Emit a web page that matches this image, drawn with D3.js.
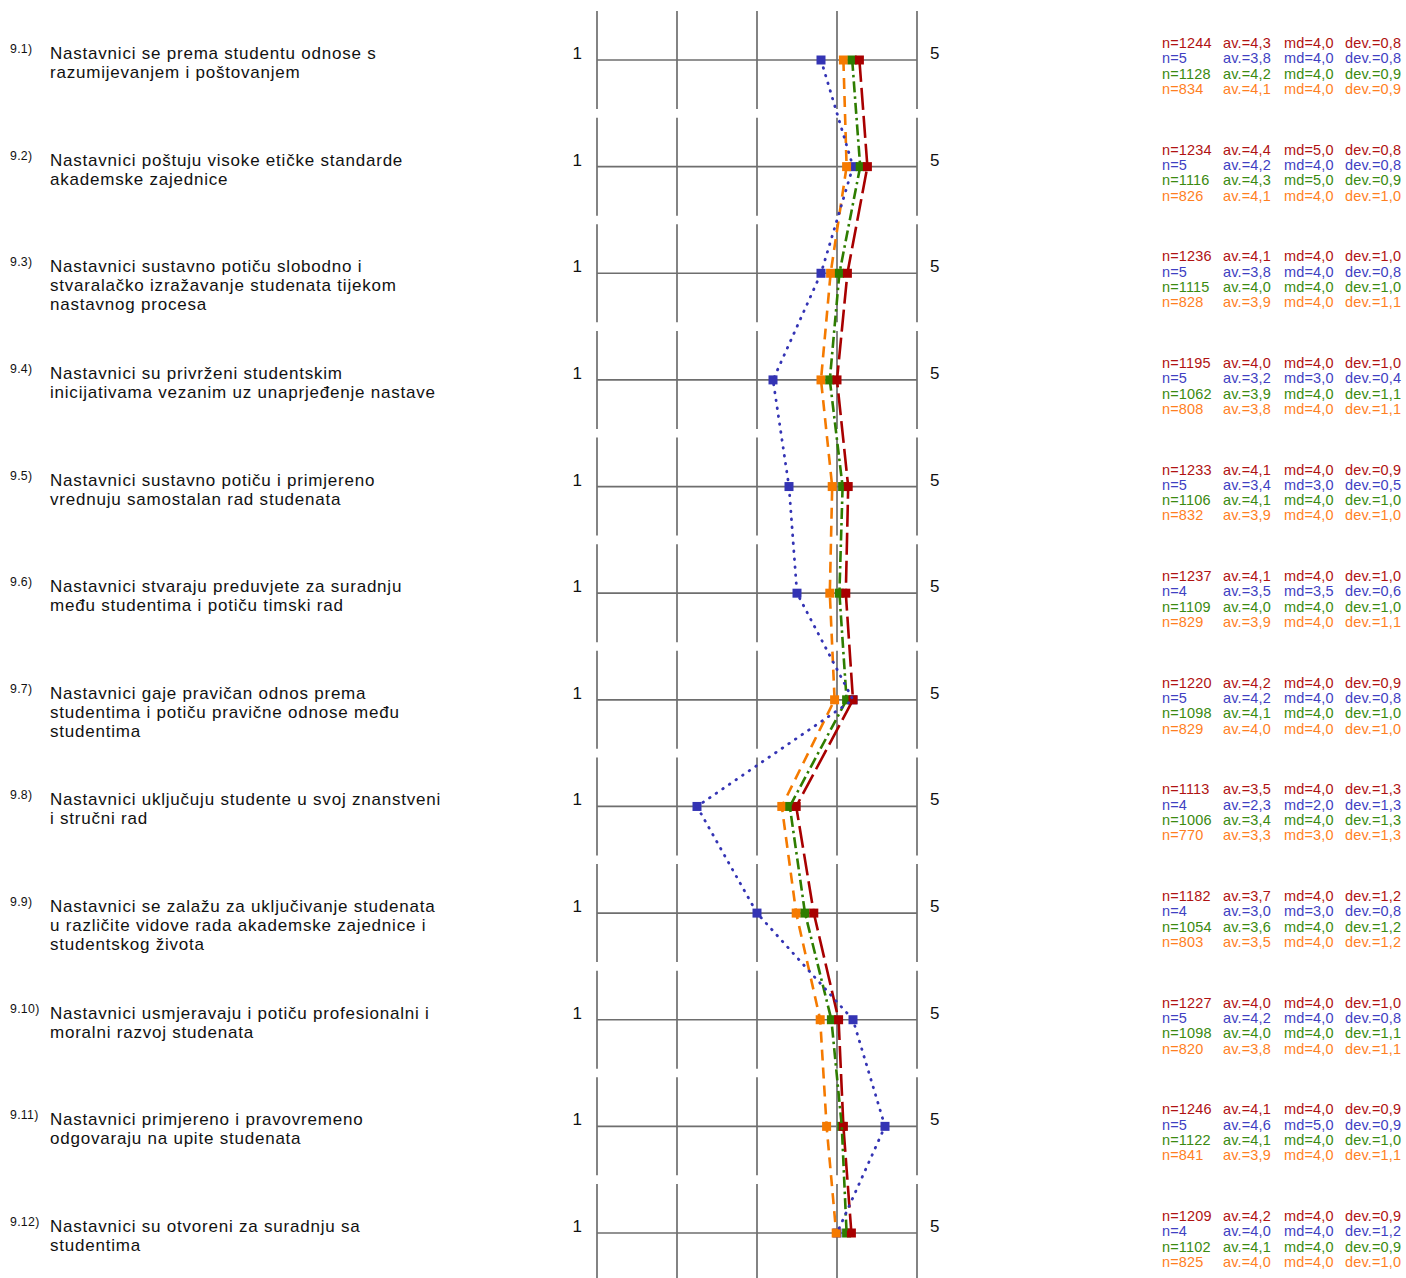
<!DOCTYPE html>
<html><head><meta charset="utf-8">
<script src="https://cdn.jsdelivr.net/npm/d3@7"></script>
<style>
html,body{margin:0;padding:0;background:#fff;}
svg{display:block;font-family:"Liberation Sans",Arial,sans-serif;}
</style></head>
<body>
<svg id="chart" width="1406" height="1278"></svg>
<script>
// ---- data ----
const itemIds = ["9.1)","9.2)","9.3)","9.4)","9.5)","9.6)","9.7)","9.8)","9.9)","9.10)","9.11)","9.12)"];
const itemLabels = [
  ["Nastavnici se prema studentu odnose s","razumijevanjem i poštovanjem"],
  ["Nastavnici poštuju visoke etičke standarde","akademske zajednice"],
  ["Nastavnici sustavno potiču slobodno i","stvaralačko izražavanje studenata tijekom","nastavnog procesa"],
  ["Nastavnici su privrženi studentskim","inicijativama vezanim uz unaprjeđenje nastave"],
  ["Nastavnici sustavno potiču i primjereno","vrednuju samostalan rad studenata"],
  ["Nastavnici stvaraju preduvjete za suradnju","među studentima i potiču timski rad"],
  ["Nastavnici gaje pravičan odnos prema","studentima i potiču pravične odnose među","studentima"],
  ["Nastavnici uključuju studente u svoj znanstveni","i stručni rad"],
  ["Nastavnici se zalažu za uključivanje studenata","u različite vidove rada akademske zajednice i","studentskog života"],
  ["Nastavnici usmjeravaju i potiču profesionalni i","moralni razvoj studenata"],
  ["Nastavnici primjereno i pravovremeno","odgovaraju na upite studenata"],
  ["Nastavnici su otvoreni za suradnju sa","studentima"]
];
const scaleTicks = [1, 2, 3, 4, 5];
const scaleEndLabels = ["1", "5"];

// marker positions (means) per series
const redMean    = [4.28, 4.38, 4.13, 4.00, 4.14, 4.11, 4.20, 3.49, 3.71, 4.02, 4.08, 4.18];
const blueMean   = [3.80, 4.20, 3.80, 3.20, 3.40, 3.50, 4.20, 2.25, 3.00, 4.20, 4.60, 4.00];
const greenMean  = [4.19, 4.29, 4.03, 3.91, 4.07, 4.03, 4.12, 3.41, 3.60, 3.93, 4.06, 4.12];
const orangeMean = [4.08, 4.12, 3.92, 3.80, 3.94, 3.91, 3.97, 3.31, 3.49, 3.79, 3.87, 3.99];

// statistics text
const redN   = [1244,1234,1236,1195,1233,1237,1220,1113,1182,1227,1246,1209];
const redAv  = [4.3,4.4,4.1,4.0,4.1,4.1,4.2,3.5,3.7,4.0,4.1,4.2];
const redMd  = [4,5,4,4,4,4,4,4,4,4,4,4];
const redDev = [0.8,0.8,1.0,1.0,0.9,1.0,0.9,1.3,1.2,1.0,0.9,0.9];

const blueN   = [5,5,5,5,5,4,5,4,4,5,5,4];
const blueAv  = [3.8,4.2,3.8,3.2,3.4,3.5,4.2,2.3,3.0,4.2,4.6,4.0];
const blueMd  = [4,4,4,3,3,3.5,4,2,3,4,5,4];
const blueDev = [0.8,0.8,0.8,0.4,0.5,0.6,0.8,1.3,0.8,0.8,0.9,1.2];

const greenN   = [1128,1116,1115,1062,1106,1109,1098,1006,1054,1098,1122,1102];
const greenAv  = [4.2,4.3,4.0,3.9,4.1,4.0,4.1,3.4,3.6,4.0,4.1,4.1];
const greenMd  = [4,5,4,4,4,4,4,4,4,4,4,4];
const greenDev = [0.9,0.9,1.0,1.1,1.0,1.0,1.0,1.3,1.2,1.1,1.0,0.9];

const orangeN   = [834,826,828,808,832,829,829,770,803,820,841,825];
const orangeAv  = [4.1,4.1,3.9,3.8,3.9,3.9,4.0,3.3,3.5,3.8,3.9,4.0];
const orangeMd  = [4,4,4,4,4,4,4,3,4,4,4,4];
const orangeDev = [0.9,1.0,1.1,1.1,1.0,1.1,1.0,1.3,1.2,1.1,1.1,1.0];

// ---- styling ----
const series = [
  {key:"red",    mean:redMean,    n:redN,    av:redAv,    md:redMd,    dev:redDev,    line:"#a80000", text:"#b01212", dash:"22,6",       width:2.6, cap:"butt"},
  {key:"blue",   mean:blueMean,   n:blueN,   av:blueAv,   md:blueMd,   dev:blueDev,   line:"#3434b4", text:"#3f3fc2", dash:"0.6,7.4",    width:2.8, cap:"round"},
  {key:"green",  mean:greenMean,  n:greenN,  av:greenAv,  md:greenMd,  dev:greenDev,  line:"#2e7d00", text:"#3a8a10", dash:"11,4,2.5,4", width:2.6, cap:"butt"},
  {key:"orange", mean:orangeMean, n:orangeN, av:orangeAv, md:orangeMd, dev:orangeDev, line:"#f57a00", text:"#ff7f1f", dash:"11,7",       width:2.6, cap:"butt"}
];

const svg = d3.select("#chart");
const x = d3.scaleLinear().domain([1,5]).range([597,917]);
const y = d3.scaleLinear().domain([0, itemIds.length-1]).range([60,1233]);
const rows = d3.range(itemIds.length);
const fmt1 = v => d3.format(".1f")(v).replace(".", ",");

// grid
const grid = svg.append("g").attr("stroke","#6e6e6e").attr("stroke-width",1.7);
rows.forEach(i => {
  scaleTicks.forEach(t => {
    grid.append("line").attr("x1",x(t)).attr("x2",x(t))
      .attr("y1",y(i)-49).attr("y2",y(i)+49);
  });
  grid.append("line").attr("x1",x(1)).attr("x2",x(5)).attr("y1",y(i)).attr("y2",y(i));
});

// labels
const lab = svg.append("g");
rows.forEach(i => {
  lab.append("text").attr("x",10).attr("y",y(i)-7).attr("font-size",12.3).attr("letter-spacing",0.3).attr("fill","#111").text(itemIds[i]);
  const t = lab.append("text").attr("x",50).attr("y",y(i)-1).attr("font-size",17).attr("letter-spacing",0.78).attr("fill","#111");
  itemLabels[i].forEach((ln,k) => t.append("tspan").attr("x",50).attr("dy", k===0?0:19).text(ln));
  lab.append("text").attr("x",582).attr("y",y(i)-1).attr("text-anchor","end").attr("font-size",17).attr("fill","#111").text(scaleEndLabels[0]);
  lab.append("text").attr("x",930).attr("y",y(i)-1).attr("font-size",17).attr("fill","#111").text(scaleEndLabels[1]);
});

// markers: blue, orange, green, red
const markerOrder = ["blue","orange","green","red"];
const ms = 9;
markerOrder.forEach(k => {
  const s = series.find(d => d.key===k);
  svg.append("g").selectAll("rect").data(rows).join("rect")
    .attr("x", i => x(s.mean[i]) - ms/2).attr("y", i => y(i) - ms/2)
    .attr("width", ms).attr("height", ms).attr("fill", s.line);
});

// lines: red, green, orange, blue
const lineOrder = ["red","green","orange","blue"];
lineOrder.forEach(k => {
  const s = series.find(d => d.key===k);
  const gen = d3.line().x(i => x(s.mean[i])).y(i => y(i));
  svg.append("path").attr("d", gen(rows)).attr("fill","none")
    .attr("stroke", s.line).attr("stroke-width", s.width)
    .attr("stroke-dasharray", s.dash).attr("stroke-linecap", s.cap);
});

// stats
const st = svg.append("g").attr("font-size",14.5).attr("letter-spacing",0.15);
const cols = [1162, 1223, 1284, 1345];
rows.forEach(i => {
  series.forEach((s,j) => {
    const yy = y(i) - 12 + j*15.3;
    const vals = ["n=" + s.n[i], "av.=" + fmt1(s.av[i]), "md=" + fmt1(s.md[i]), "dev.=" + fmt1(s.dev[i])];
    vals.forEach((v,c) => st.append("text").attr("x",cols[c]).attr("y",yy).attr("fill",s.text).text(v));
  });
});
</script>
</body></html>
